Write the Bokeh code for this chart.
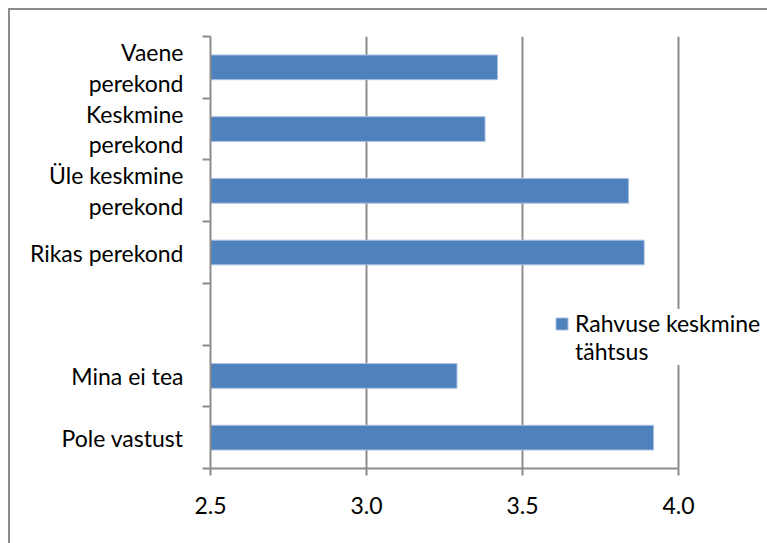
from bokeh.plotting import figure
from bokeh.models import ColumnDataSource, Range1d, FixedTicker, Legend, LegendItem
from bokeh.embed import file_html
from bokeh.resources import INLINE

# ---- data ----
categories = ["Vaene\nperekond", "Keskmine\nperekond", "Üle keskmine\nperekond",
              "Rikas perekond", "", "Mina ei tea", "Pole vastust"]
values = [3.42, 3.38, 3.84, 3.89, None, 3.29, 3.92]
series_name_lines = ["Rahvuse keskmine", "tähtsus"]
x_ticks = [2.5, 3.0, 3.5, 4.0]
x_tick_labels = ["2.5", "3.0", "3.5", "4.0"]

FONT = "Lato"
FS = "23px"
GRID = "#8c8c8c"
BAR = "#4f81bd"

PX_PER_UNIT = 312
FRAME_W = 552

n = len(categories)
centers = [n - 1 - i + 0.5 for i in range(n)]
bounds = list(range(n + 1))

bar_y = [c for c, v in zip(centers, values) if v is not None]
bar_v = [v for v in values if v is not None]
src = ColumnDataSource(dict(y=bar_y, v=bar_v))

x_end = x_ticks[0] + FRAME_W / PX_PER_UNIT

p = figure(frame_width=FRAME_W, frame_height=432, output_backend="svg",
           toolbar_location=None, x_range=Range1d(x_ticks[0], x_end),
           y_range=Range1d(0, n),
           min_border_left=200, min_border_right=5, min_border_top=26,
           min_border_bottom=75)
p.styles = {"border-left": "2px solid #8c8c8c", "border-top": "2px solid #8c8c8c",
            "margin-left": "8px", "margin-top": "8px"}
p.outline_line_color = None
p.background_fill_color = "white"
p.border_fill_color = "white"

r = p.hbar(y="y", right="v", left=x_ticks[0], height=0.4, source=src,
           fill_color=BAR, line_color="#a9c1e0", line_width=1)

# x axis
xa = p.xaxis[0]
xa.bounds = (x_ticks[0], x_ticks[-1])
xa.ticker = FixedTicker(ticks=x_ticks, minor_ticks=[])
xa.major_label_overrides = {t: l for t, l in zip(x_ticks, x_tick_labels)}
xa.axis_line_color = GRID
xa.axis_line_width = 2
xa.major_tick_line_color = GRID
xa.major_tick_line_width = 2
xa.major_tick_out = 7
xa.major_tick_in = 0
xa.minor_tick_line_color = None
xa.major_label_text_font = FONT
xa.major_label_text_font_size = FS
xa.major_label_text_color = "#000000"
xa.major_label_standoff = 21

# y axis
ya = p.yaxis[0]
ya.ticker = FixedTicker(ticks=centers, minor_ticks=bounds)
ya.major_label_overrides = {c: l for c, l in zip(centers, categories)}
ya.axis_line_color = GRID
ya.axis_line_width = 2
ya.major_tick_line_color = None
ya.major_tick_out = 0
ya.major_tick_in = 0
ya.minor_tick_line_color = GRID
ya.minor_tick_line_width = 2
ya.minor_tick_out = 8
ya.minor_tick_in = 0
ya.major_label_text_font = FONT
ya.major_label_text_font_size = FS
ya.major_label_text_color = "#000000"
ya.major_label_text_line_height = 1.1
ya.major_label_standoff = 19

p.ygrid.grid_line_color = None
p.xgrid.ticker = FixedTicker(ticks=x_ticks[1:])
p.xgrid.grid_line_color = GRID
p.xgrid.grid_line_width = 2

items = [LegendItem(label=series_name_lines[0], renderers=[r])]
items += [LegendItem(label=t, renderers=[]) for t in series_name_lines[1:]]
legend = Legend(items=items,
                location=(344, 103), orientation="vertical",
                label_text_font=FONT, label_text_font_size=FS,
                label_text_color="#000000", label_height=27,
                glyph_width=15, glyph_height=15, label_standoff=6,
                padding=10, margin=0, spacing=0,
                border_line_color=None, background_fill_color="white",
                background_fill_alpha=1.0)
p.add_layout(legend, "center")

open("out.html", "w").write(file_html(p, INLINE))
